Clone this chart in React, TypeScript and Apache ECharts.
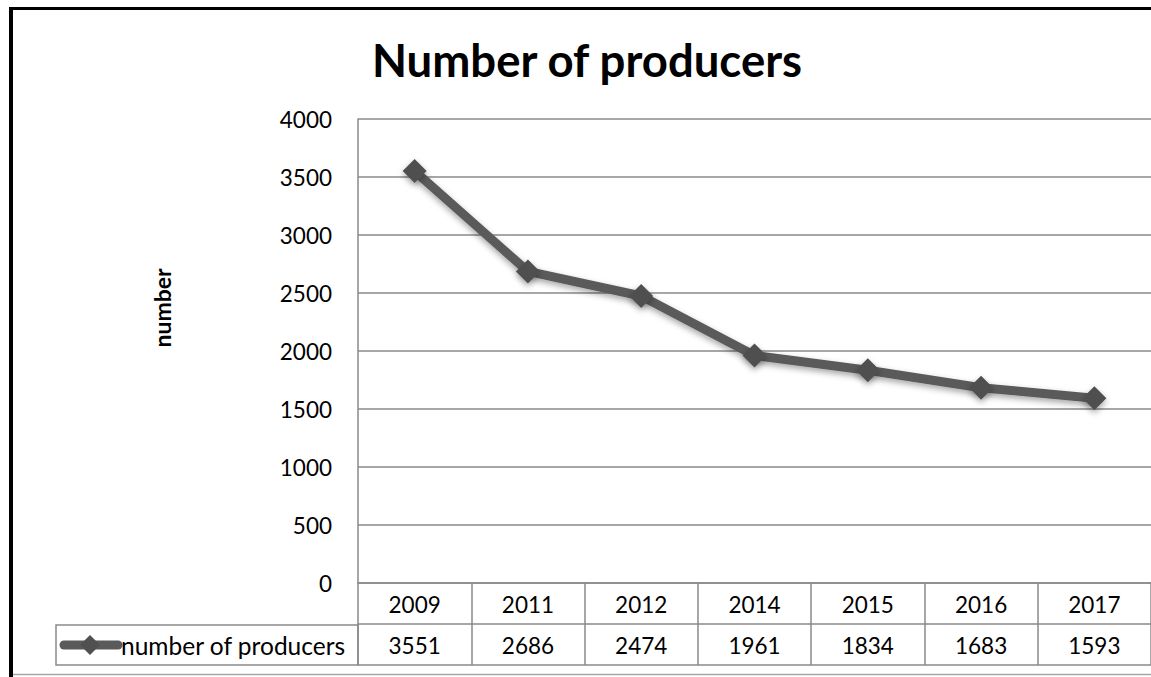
import React, { useEffect, useRef } from "react";
import * as echarts from "echarts";

const years = ["2009", "2011", "2012", "2014", "2015", "2016", "2017"];
const producers = [3551, 2686, 2474, 1961, 1834, 1683, 1593];
const seriesName = "number of producers";
const chartTitle = "Number of producers";
const yTitle = "number";

const FONT = "Lato, 'Noto Sans', sans-serif";
const GRID = "#8a8a8a";
const LINE = "#5a5a5a";

export default function App() {
  const ref = useRef<HTMLDivElement>(null);
  useEffect(() => {
    const chart = echarts.init(ref.current!, null, { renderer: "svg" });
    const axisBase = {
      type: "category" as const,
      position: "bottom" as const,
      boundaryGap: true,
      axisLine: { show: true, lineStyle: { color: GRID, width: 1.5 } },
    };
    const shadow = {
      shadowBlur: 6,
      shadowColor: "rgba(0,0,0,0.35)",
      shadowOffsetY: 3,
    };
    chart.setOption({
      animation: false,
      backgroundColor: "#ffffff",
      title: {
        text: chartTitle,
        left: 582,
        top: 31,
        textAlign: "center",
        textStyle: { fontFamily: FONT, fontSize: 45.5, fontWeight: "bold", color: "#000" },
      },
      grid: { left: 358, top: 119, right: -12, bottom: 94, containLabel: false },
      xAxis: [
        {
          ...axisBase,
          data: years,
          axisTick: { show: true, length: 82, lineStyle: { color: GRID, width: 1.5 } },
          axisLabel: { margin: 10, fontFamily: FONT, fontSize: 22.5, color: "#000" },
        },
        {
          ...axisBase,
          data: producers.map(String),
          offset: 41,
          axisTick: { show: false },
          axisLabel: { margin: 10, fontFamily: FONT, fontSize: 22.5, color: "#000" },
        },
        {
          ...axisBase,
          data: years,
          offset: 82,
          axisTick: { show: false },
          axisLabel: { show: false },
        },
      ],
      yAxis: {
        type: "value",
        min: 0,
        max: 4000,
        interval: 500,
        axisLine: { show: true, lineStyle: { color: GRID, width: 1.5 } },
        axisTick: { show: false },
        splitLine: { show: true, lineStyle: { color: GRID, width: 1.5 } },
        axisLabel: {
          margin: 26,
          fontFamily: FONT,
          fontSize: 22.5,
          color: "#000",
          formatter: (v: number) => String(v),
        },
      },
      series: [
        {
          name: seriesName,
          type: "line",
          xAxisIndex: 0,
          data: producers,
          symbol: "diamond",
          symbolSize: 24,
          lineStyle: { color: LINE, width: 9, ...shadow },
          itemStyle: { color: "#505050", ...shadow },
        },
      ],
      graphic: [
        {
          type: "rect",
          shape: { x: 56, y: 625, width: 302, height: 40 },
          style: { fill: "none", stroke: GRID, lineWidth: 1.5 },
        },
        {
          type: "line",
          shape: { x1: 64, y1: 645, x2: 118, y2: 645 },
          style: { stroke: LINE, lineWidth: 9, lineCap: "round" },
        },
        {
          type: "polygon",
          shape: { points: [[90, 635], [100, 645], [90, 655], [80, 645]] },
          style: { fill: "#505050" },
        },
        {
          type: "text",
          x: 121,
          y: 645,
          style: {
            text: seriesName,
            fontFamily: FONT,
            fontSize: 24.5,
            fill: "#000",
            align: "left",
            verticalAlign: "middle",
          },
        },
        {
          type: "text",
          x: 162,
          y: 308,
          rotation: Math.PI / 2,
          style: {
            text: yTitle,
            fontFamily: FONT,
            fontSize: 23,
            fontWeight: "bold",
            fill: "#000",
            align: "center",
            verticalAlign: "middle",
          },
        },
        {
          type: "line",
          shape: { x1: 11, y1: 7, x2: 11, y2: 677 },
          style: { stroke: "#000", lineWidth: 4 },
        },
        {
          type: "line",
          shape: { x1: 9, y1: 8.5, x2: 1151, y2: 8.5 },
          style: { stroke: "#000", lineWidth: 3 },
        },
        {
          type: "line",
          shape: { x1: 13, y1: 674.5, x2: 1151, y2: 674.5 },
          style: { stroke: "#a6a6a6", lineWidth: 1.5 },
        },
      ],
    });
    return () => chart.dispose();
  }, []);
  return (
    <div
      ref={ref}
      style={{ position: "fixed", left: 0, top: 0, width: 1151, height: 677 }}
    />
  );
}
